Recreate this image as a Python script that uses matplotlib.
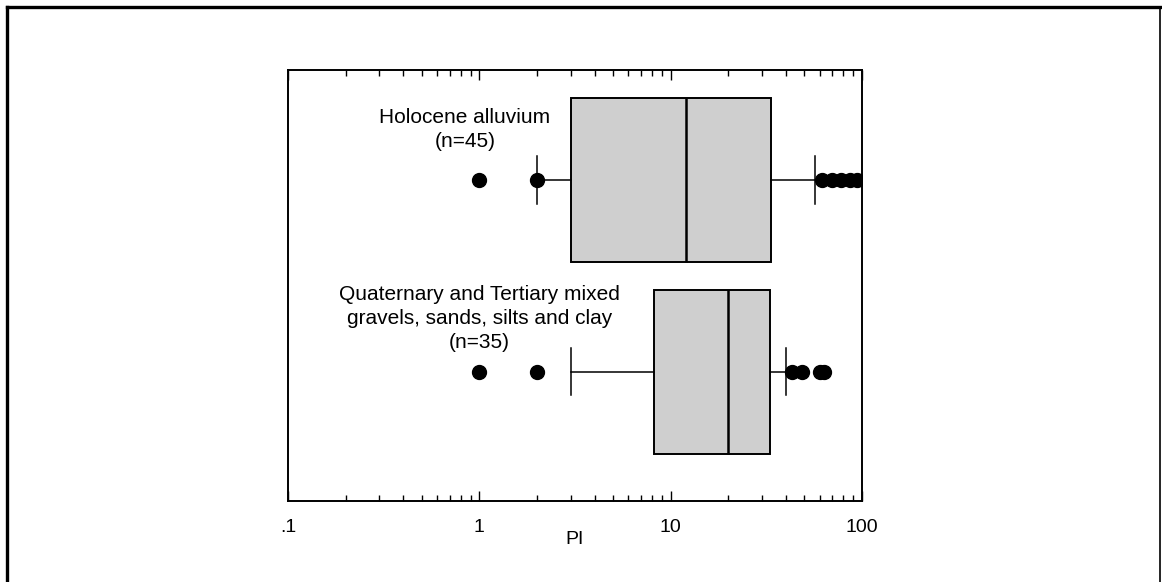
import matplotlib
matplotlib.use("Agg")
import matplotlib.pyplot as plt
from matplotlib.lines import Line2D
from matplotlib.ticker import FixedLocator, FixedFormatter, LogLocator, NullFormatter

# ---- data ----
groups = ["Holocene alluvium", "Quaternary and Tertiary mixed"]
labels = ["Holocene alluvium\n(n=45)",
          "Quaternary and Tertiary mixed\ngravels, sands, silts and clay\n(n=35)"]
q1 = [3.0, 8.2]
median = [12.0, 20.0]
q3 = [33.5, 33.0]
whisker_low = [2.0, 3.0]
whisker_high = [57.0, 40.0]
outliers = [[1.0, 2.0, 62.0, 70.0, 78.0, 87.0, 94.0],
            [1.0, 2.0, 43.0, 48.5, 60.0, 63.0]]
tick_values = [0.1, 1, 10, 100]
tick_labels = [".1", "1", "10", "100"]
x_label = "PI"

plt.rcParams['font.family'] = ['Liberation Sans', 'DejaVu Sans']

fig = plt.figure(figsize=(11.62, 5.82), dpi=100)
ax = fig.add_axes([288/1162, 1-501/582, 574/1162, 431/582])

stats = []
for i in range(len(groups)):
    stats.append(dict(med=median[i], q1=q1[i], q3=q3[i],
                      whislo=whisker_low[i], whishi=whisker_high[i],
                      fliers=outliers[i], label=groups[i]))

positions = [0.745, 0.300]
ax.bxp(stats, positions=positions, widths=0.38, vert=False, patch_artist=True,
       capwidths=0.11,
       boxprops=dict(facecolor='#cfcfcf', edgecolor='black', linewidth=1.4),
       medianprops=dict(color='black', linewidth=1.8),
       whiskerprops=dict(color='black', linewidth=1.1),
       capprops=dict(color='black', linewidth=1.1),
       flierprops=dict(marker='o', markerfacecolor='black', markeredgecolor='black',
                       markersize=10, linestyle='none'),
       manage_ticks=False)

ax.set_xscale('log')
ax.set_xlim(0.1, 100)
ax.set_ylim(0, 1)
ax.xaxis.set_major_locator(FixedLocator(tick_values))
ax.xaxis.set_major_formatter(FixedFormatter(tick_labels))
ax.xaxis.set_minor_locator(LogLocator(base=10, subs=range(2, 10)))
ax.xaxis.set_minor_formatter(NullFormatter())
ax.set_yticks([])
ax.tick_params(axis='x', which='both', direction='in', top=True, bottom=True,
               labelsize=14, pad=13, width=1.0)
ax.tick_params(axis='x', which='major', length=7)
ax.tick_params(axis='x', which='minor', length=4)
for s in ax.spines.values():
    s.set_linewidth(1.4)
ax.set_xlabel(x_label, fontsize=14, labelpad=-4)

# group labels
ax.text(0.308, 0.862, labels[0], transform=ax.transAxes, ha='center', va='center',
        fontsize=15, linespacing=1.32)
ax.text(0.334, 0.424, labels[1], transform=ax.transAxes, ha='center', va='center',
        fontsize=15, linespacing=1.32)

# outer frame
fig.add_artist(Line2D([7/1162, 7/1162], [0, 1-7/582], transform=fig.transFigure,
                      color='black', linewidth=2.4))
fig.add_artist(Line2D([7/1162, 1160/1162], [1-7/582, 1-7/582], transform=fig.transFigure,
                      color='black', linewidth=2.4))
fig.add_artist(Line2D([1160/1162, 1160/1162], [0, 1-7/582], transform=fig.transFigure,
                      color='black', linewidth=1.2))

fig.savefig("out.png", dpi=100)
